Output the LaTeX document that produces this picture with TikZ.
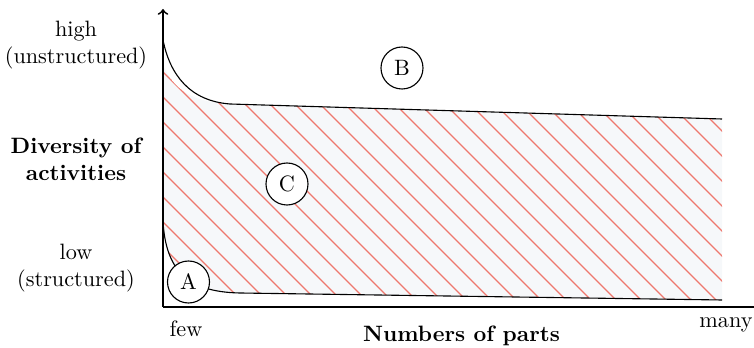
\documentclass[tikz,border=0pt]{standalone}
\begin{document}
\begin{tikzpicture}[x=0.45pt,y=-0.45pt,
  axis/.style={line width=0.8pt},
  curve/.style={line width=0.5pt},
  marker/.style={circle,draw,fill=white,line width=0.5pt,minimum size=18.9pt,inner sep=0pt},
  lbl/.style={align=center,inner sep=0pt},
  hatch/.style={draw={rgb,255:red,238;green,120;blue,110},line width=0.5pt}]
\useasboundingbox (0,0) rectangle (754,348);
\definecolor{regionbg}{RGB}{246,248,250}
% region C
\path[fill=regionbg] (163,65) .. controls (174,90) and (192,102) .. (230,104) -- (722,119) -- (722,300) -- (240,293) .. controls (185,292) and (166,268) .. (163,222) -- cycle;
\begin{scope}
\clip (163,65) .. controls (174,90) and (192,102) .. (230,104) -- (722,119) -- (722,300) -- (240,293) .. controls (185,292) and (166,268) .. (163,222) -- cycle;
\foreach \c in {-700,-675,...,200}{
  \draw[hatch] (100,{100+\c+9}) -- (800,{800+\c+9});
}
\end{scope}
% boundary curves
\draw[curve] (163,40) .. controls (170,75) and (190,101) .. (230,104) -- (722,119);
\draw[curve] (163,222) .. controls (166,268) and (185,292) .. (240,293) -- (722,300);
% markers
\node[marker] (A) at (188.5,282) {A};
\node[marker] (B) at (402,68) {B};
\node[marker] (C) at (287,184) {C};
% axes
\coordinate (O) at (163,307);
\coordinate (ytop) at (163,9);
\coordinate (xend) at (754,307);
\draw[axis,->] (O) -- (ytop);
\draw[axis] (O) -- (xend);
% labels
\node[lbl] (high) at (76,45) {high\\(unstructured)};
\node[lbl] (div) at (76,159) {\bfseries Diversity of\\\bfseries activities};
\node[lbl] (low) at (76,268) {low\\(structured)};
\node[lbl] (few) at (186,329) {few};
\node[lbl] (many) at (726,325) {many};
\node[lbl] (parts) at (461.5,336) {\bfseries Numbers of parts};
\end{tikzpicture}
\end{document}
